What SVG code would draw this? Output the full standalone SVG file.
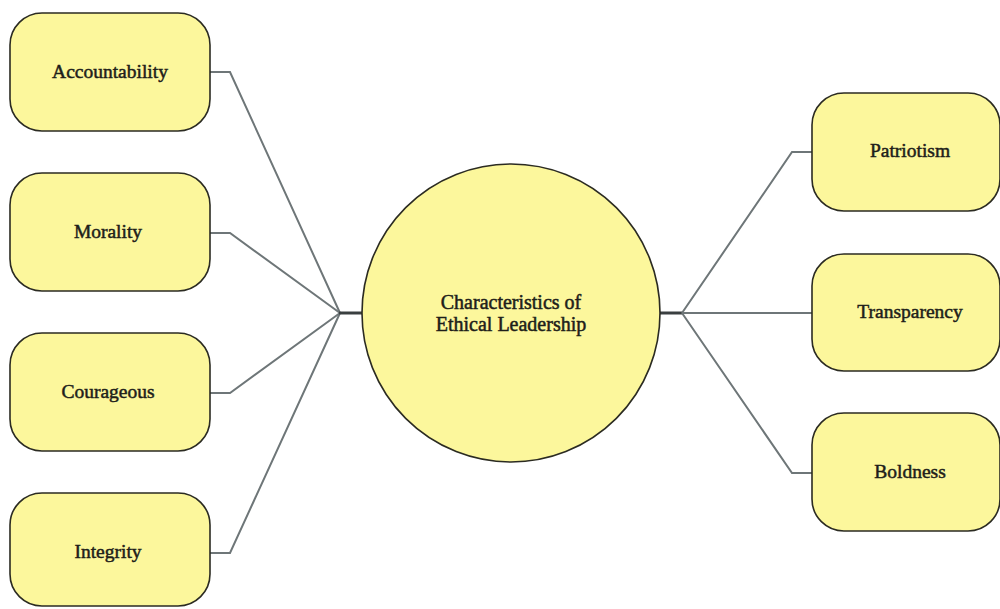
<svg xmlns="http://www.w3.org/2000/svg" width="1000" height="609" viewBox="0 0 1000 609">
<style>
.node{fill:#fcf79c;stroke:#2b2b22;stroke-width:1.6}
.lbl{font-family:'Liberation Serif','Tinos','Times New Roman','DejaVu Serif',serif;font-size:19.5px;fill:#1e1e1a;stroke:#1e1e1a;stroke-width:0.5;text-anchor:middle}
.big{font-size:20px}
.conn{fill:none;stroke:#6e7678;stroke-width:2;stroke-linejoin:miter}
.trunk{fill:none;stroke:#3a3f40;stroke-width:3}
</style>
<rect width="1000" height="609" fill="#ffffff"/>
<g id="connectors">
<polyline class="conn" points="210,72 230,72 340,313"/>
<polyline class="conn" points="210,233 230,233 340,313"/>
<polyline class="conn" points="210,393 230,393 340,313"/>
<polyline class="conn" points="210,553 230,553 340,313"/>
<line class="trunk" x1="339" y1="313" x2="363" y2="313"/>
<line class="trunk" x1="659" y1="313" x2="683" y2="313"/>
<polyline class="conn" points="682,313 792,152 812,152"/>
<polyline class="conn" points="682,313 812,313"/>
<polyline class="conn" points="682,313 792,473 812,473"/>
</g>
<g id="center">
<circle class="node" cx="511" cy="313" r="149"/>
<text class="lbl big" x="511" y="309" font-family="Liberation Serif, serif">Characteristics of</text>
<text class="lbl big" x="511" y="331" font-family="Liberation Serif, serif">Ethical Leadership</text>
</g>
<g id="accountability">
<rect class="node" x="10" y="13" width="200" height="118" rx="32" ry="32"/>
<text class="lbl" x="110" y="78" font-family="Liberation Serif, serif">Accountability</text>
</g>
<g id="morality">
<rect class="node" x="10" y="173" width="200" height="118" rx="32" ry="32"/>
<text class="lbl" x="108" y="238" font-family="Liberation Serif, serif">Morality</text>
</g>
<g id="courageous">
<rect class="node" x="10" y="333" width="200" height="118" rx="32" ry="32"/>
<text class="lbl" x="108" y="398" font-family="Liberation Serif, serif">Courageous</text>
</g>
<g id="integrity">
<rect class="node" x="10" y="493" width="200" height="113" rx="32" ry="32"/>
<text class="lbl" x="108" y="558" font-family="Liberation Serif, serif">Integrity</text>
</g>
<g id="patriotism">
<rect class="node" x="812" y="93" width="188" height="118" rx="32" ry="32"/>
<text class="lbl" x="910" y="157" font-family="Liberation Serif, serif">Patriotism</text>
</g>
<g id="transparency">
<rect class="node" x="812" y="254" width="188" height="117" rx="32" ry="32"/>
<text class="lbl" x="910" y="318" font-family="Liberation Serif, serif">Transparency</text>
</g>
<g id="boldness">
<rect class="node" x="812" y="413" width="188" height="118" rx="32" ry="32"/>
<text class="lbl" x="910" y="478" font-family="Liberation Serif, serif">Boldness</text>
</g>
</svg>
